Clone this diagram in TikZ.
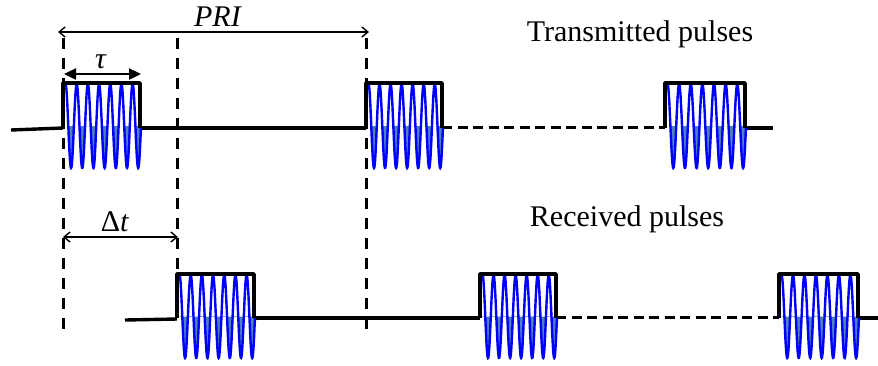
\documentclass[tikz,border=0pt]{standalone}
\usepackage{fontspec}
\setmainfont{Liberation Serif}
\usetikzlibrary{arrows.meta}
\definecolor{wblue}{RGB}{0,0,255}
\definecolor{wfillc}{RGB}{79,129,189}
\tikzset{
  pulseline/.style={line width=3.6pt, line join=round},
  baseline/.style={line width=3.4pt},
  dashbase/.style={line width=3.4pt, dash pattern=on 10pt off 5.5pt},
  vdash/.style={line width=3pt, dash pattern=on 11pt off 9pt},
  wave/.style={wblue, line width=2.4pt},
  wfill/.style={fill=wfillc},
  dimarrow/.style={line width=1.4pt, {Straight Barb[length=6pt,width=10pt]}-{Straight Barb[length=6pt,width=10pt]}},
  tauarrow/.style={line width=2.4pt, {Triangle[length=12pt,width=11pt]}-{Triangle[length=12pt,width=11pt]}},
  lbl/.style={font=\fontsize{30}{35}\selectfont, inner sep=0pt},
}
\newcommand{\wpulse}[6]{%
  \begin{scope}
    \clip (#1,#5) rectangle (#2+2,#5+50);
    \fill[wfill] plot[domain=0:6.75,samples=300] ({#1+2.5+(#2-#1-1.5)/6.75*\x},{#5-#6*cos(360*\x)}) -- (#2+1,#5) -- (#1+2.5,#5) -- cycle;
  \end{scope}
  \draw[wave] plot[domain=0:6.75,samples=300] ({#1+2.5+(#2-#1-1.5)/6.75*\x},{#5-#6*cos(360*\x)});
  \draw[pulseline] (#1,#4) -- (#1,#3) -- (#2,#3) -- (#2,#4);
}
\begin{document}
\begin{tikzpicture}[x=1pt,y=-1pt]
\useasboundingbox (0,0) rectangle (878,365);
% dashed verticals
\coordinate (v1t) at (63,38);  \coordinate (v1b) at (63,330);
\coordinate (v2t) at (177,38); \coordinate (v2b) at (177,274);
\coordinate (v3t) at (366,38); \coordinate (v3b) at (366,330);
\draw[vdash] (v1t) -- (v1b);
\draw[vdash] (v2t) -- (v2b);
\draw[vdash] (v3t) -- (v3b);
% transmitted row
\draw[baseline] (11,130) -- (63,128);
\draw[baseline] (140,128) -- (366,128);
\draw[dashbase] (442,127.5) -- (665,127.5);
\draw[baseline] (745,128) -- (773,128);
\wpulse{63}{140}{83}{128}{126}{42}
\wpulse{366}{442}{83}{128}{126}{42}
\wpulse{665}{745}{83}{128}{126}{42}
% received row
\draw[baseline] (125,320) -- (177,319);
\draw[baseline] (254,318) -- (480,318);
\draw[dashbase] (556,317.5) -- (779,317.5);
\draw[baseline] (858,318) -- (878,318);
\wpulse{177}{254}{274}{318}{316.5}{41.5}
\wpulse{480}{556}{274}{318}{316.5}{41.5}
\wpulse{779}{858}{274}{318}{316.5}{41.5}
% PRI
\coordinate (pri1) at (58,32); \coordinate (pri2) at (369,32);
\draw[dimarrow] (pri1) -- (pri2);
\node[lbl, anchor=base] (pri) at (218,26) {\textit{PRI}};
% tau
\coordinate (tau1) at (64,74); \coordinate (tau2) at (141,74);
\draw[tauarrow] (tau1) -- (tau2);
\node[lbl, anchor=base] (tau) at (101,68) {\textit{τ}};
% delta t
\coordinate (dt1) at (63,237); \coordinate (dt2) at (178,237);
\draw[dimarrow] (dt1) -- (dt2);
\node[lbl, anchor=base] (dt) at (115,231) {Δ\textit{t}};
% labels
\node[lbl, anchor=base] (tx) at (640,41) {Transmitted pulses};
\node[lbl, anchor=base] (rx) at (627,226) {Received pulses};
\end{tikzpicture}
\end{document}
